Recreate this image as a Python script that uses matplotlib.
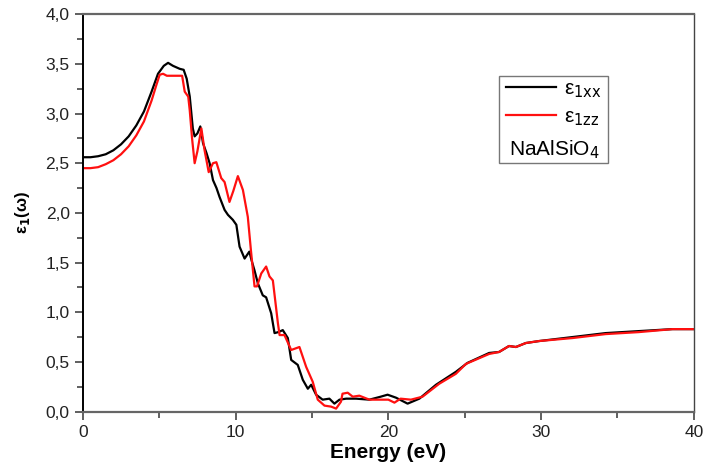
import matplotlib
matplotlib.use("Agg")
import matplotlib.pyplot as plt
from matplotlib.patches import Rectangle
from matplotlib.ticker import MultipleLocator, FuncFormatter

# eps_1 xx component (black)
energy_xx = [0, 0.5, 1.0, 1.5, 2.0, 2.5, 3.0, 3.5, 4.0, 4.5, 4.92, 5.3,
             5.58, 5.9, 6.34, 6.6, 6.8, 7.0, 7.2, 7.32, 7.5, 7.69,
             7.87, 8.1, 8.3, 8.52, 8.75, 8.95, 9.28, 9.5, 9.82, 10.05,
             10.26, 10.59, 10.9, 11.05, 11.24, 11.46, 11.78, 12.0, 12.33, 12.55,
             12.8, 13.09, 13.42, 13.64, 14.07, 14.4, 14.73, 14.95, 15.27, 15.7,
             16.14, 16.47, 16.8, 17.24, 17.89, 18.76, 19.5, 19.95, 20.5, 21.26,
             22.03, 23.12, 24.42, 25.18, 26.6, 27.25, 27.9, 28.35, 29.0, 29.87,
             32.05, 34.23, 36.4, 38.6, 40]
eps_xx = [2.56, 2.56, 2.57, 2.59, 2.63, 2.69, 2.77, 2.88, 3.02, 3.22, 3.40, 3.48,
          3.51, 3.48, 3.45, 3.44, 3.35, 3.17, 2.85, 2.77, 2.80, 2.87,
          2.70, 2.60, 2.50, 2.33, 2.25, 2.16, 2.03, 1.98, 1.93, 1.88,
          1.66, 1.54, 1.61, 1.52, 1.42, 1.29, 1.17, 1.15, 0.99, 0.79,
          0.80, 0.82, 0.74, 0.52, 0.47, 0.32, 0.23, 0.27, 0.17, 0.12,
          0.13, 0.08, 0.12, 0.13, 0.13, 0.12, 0.15, 0.17, 0.14, 0.08,
          0.13, 0.27, 0.40, 0.49, 0.59, 0.60, 0.66, 0.65, 0.69, 0.71,
          0.75, 0.79, 0.81, 0.83, 0.83]

# eps_1 zz component (red)
energy_zz = [0, 0.5, 1.0, 1.5, 2.0, 2.5, 3.0, 3.5, 4.0, 4.5, 4.8, 5.03, 5.25,
             5.5, 6.0, 6.5, 6.67, 6.9, 7.0, 7.15, 7.32, 7.5, 7.76,
             7.97, 8.24, 8.52, 8.74, 9.06, 9.28, 9.6, 9.85, 10.15, 10.48,
             10.8, 11.0, 11.24, 11.4, 11.68, 12.0, 12.22, 12.44, 12.77, 12.88,
             13.2, 13.64, 14.18, 14.62, 15.05, 15.38, 15.82, 16.25, 16.58, 16.9,
             17.0, 17.34, 17.67, 18.1, 18.76, 20.0, 20.4, 20.8, 21.48, 22.24,
             23.33, 24.42, 25.08, 26.6, 27.25, 27.9, 28.35, 29.0, 29.87, 32.05,
             34.23, 36.4, 38.6, 40]
eps_zz = [2.45, 2.45, 2.46, 2.49, 2.53, 2.59, 2.67, 2.78, 2.92, 3.13, 3.28, 3.39, 3.40,
          3.38, 3.38, 3.38, 3.22, 3.17, 3.03, 2.75, 2.50, 2.62, 2.85,
          2.63, 2.41, 2.50, 2.51, 2.35, 2.31, 2.11, 2.22, 2.37, 2.23,
          1.96, 1.63, 1.26, 1.26, 1.39, 1.46, 1.36, 1.32, 0.89, 0.77,
          0.77, 0.62, 0.65, 0.45, 0.30, 0.12, 0.06, 0.05, 0.03, 0.10,
          0.18, 0.19, 0.15, 0.16, 0.12, 0.12, 0.09, 0.13, 0.12, 0.15,
          0.28, 0.38, 0.48, 0.58, 0.60, 0.66, 0.65, 0.69, 0.71, 0.74,
          0.78, 0.80, 0.83, 0.83]

plt.rcParams['font.family'] = ['Liberation Sans', 'DejaVu Sans']

fig = plt.figure(figsize=(7.08, 4.72), dpi=100)
ax = fig.add_axes([0.117, 0.128, 0.863, 0.842])

l1, = ax.plot(energy_xx, eps_xx, color='black', lw=1.6, label='ε$_{\\mathrm{1xx}}$')
l2, = ax.plot(energy_zz, eps_zz, color='#ff1010', lw=1.6, label='ε$_{\\mathrm{1zz}}$')

ax.set_xlim(0, 40)
ax.set_ylim(0, 4.0)
ax.xaxis.set_major_locator(MultipleLocator(10))
ax.xaxis.set_minor_locator(MultipleLocator(5))
ax.yaxis.set_major_locator(MultipleLocator(0.5))
ax.yaxis.set_minor_locator(MultipleLocator(0.25))
ax.yaxis.set_major_formatter(FuncFormatter(lambda v, p: f"{v:.1f}".replace('.', ',')))

ax.tick_params(which='both', direction='out', top=False, right=False,
               color='#444444', width=1.2)
ax.tick_params(which='major', length=6, labelsize=12.5, labelcolor='#222222')
ax.tick_params(which='minor', length=4)

for side in ['top', 'bottom']:
    ax.spines[side].set_color('#666666')
    ax.spines[side].set_linewidth(1.6)
ax.spines['left'].set_color('black')
ax.spines['left'].set_linewidth(1.4)
ax.spines['right'].set_color('#444444')
ax.spines['right'].set_linewidth(1.0)

ax.set_xlabel('Energy (eV)', fontsize=15, fontweight='bold',
              family=['Liberation Sans Narrow', 'Liberation Sans'], labelpad=2)
ax.set_ylabel('ε$_\\mathbf{1}$(ω)', fontsize=12, fontweight='bold', labelpad=10)

leg = ax.legend(handles=[l1, l2], loc='upper left',
                bbox_to_anchor=(0.693, 0.835), frameon=False,
                fontsize=15, handlelength=2.4, handletextpad=0.35,
                labelspacing=0.35, borderpad=0, borderaxespad=0)

ax.add_patch(Rectangle((0.681, 0.626), 0.178, 0.219, transform=ax.transAxes,
                       fill=False, edgecolor='#777777', lw=1.0, zorder=5))
ax.text(0.697, 0.645, 'NaAlSiO$_4$', transform=ax.transAxes, fontsize=15,
        ha='left', va='baseline')

fig.savefig('out.png', dpi=100)
